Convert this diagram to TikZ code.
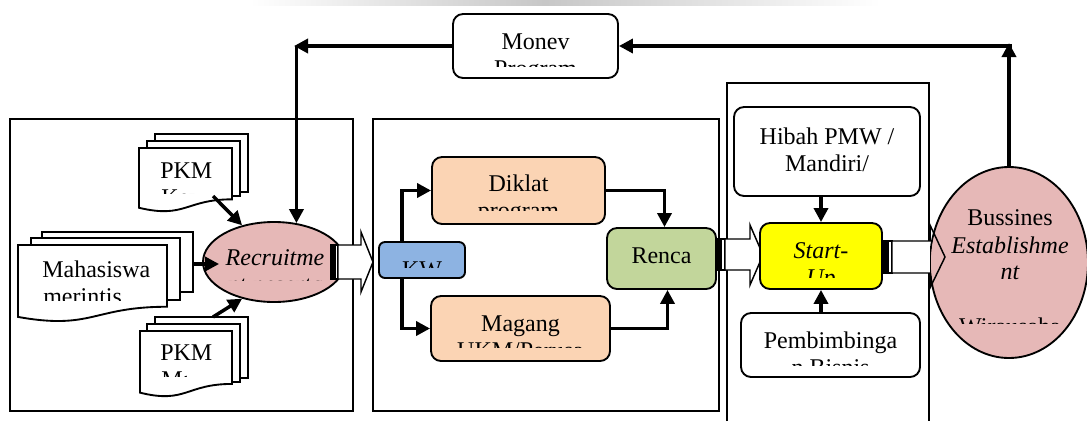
\documentclass[tikz,border=0pt]{standalone}
\usepackage{fontspec}
\setmainfont{Liberation Serif}
\usetikzlibrary{shapes.geometric,arrows.meta,calc,fit}
\definecolor{pinkfill}{HTML}{E6B8B7}
\definecolor{peach}{HTML}{FBD4B4}
\definecolor{kwblue}{HTML}{8DB3E2}
\definecolor{rgreen}{HTML}{C2D69B}
\definecolor{suyellow}{HTML}{FFFF00}
\newcommand\mydoc[4]{% x1, y1, x2, h
  \draw[doc] (#1,#2) -- (#3,#2) -- (#3,{#2+0.802*#4})
    .. controls ({(#1+#3)/2},{#2+0.802*#4}) and ({(#1+#3)/2},{#2+1.107*#4}) .. (#1,{#2+0.934*#4}) -- cycle;}
\begin{document}
\begin{tikzpicture}[x=0.75pt,y=-0.75pt,
  txt/.style={font=\fontsize{18pt}{20.25pt}\selectfont, inner sep=0pt, anchor=base},
  txtw/.style={txt, anchor=base west},
  box/.style={draw, line width=1.4pt, rounded corners=7.5pt, inner sep=0pt},
  panel/.style={draw, line width=1.4pt, inner sep=0pt},
  conn/.style={line width=2.6pt, -{Triangle[length=10.5pt,width=10.5pt]}},
  blockar/.style={draw, line width=1.1pt, line join=miter},
  doc/.style={draw, line width=1.4pt, fill=white}]
\useasboundingbox (0,0) rectangle (1087,421);

% faint scan band at the top
\shade[left color=white, right color=black!22] (250,0) rectangle (545,5);
\shade[left color=black!22, right color=white] (545,0) rectangle (880,5);

% panels
\node[panel, fit={(10,119) (353,411)}] (p1) {};
\node[panel, fit={(373,119) (719,411)}] (p2) {};
\draw[line width=1.4pt] (727,421) -- (727,83) -- (929,83) -- (929,421);

% Monev
\node[box, fill=white, fit={(453,14) (618,78)}] (monev) {};
\node[txt] (monev-l1) at (535.5,49) {Monev};
\begin{scope}
  \clip (453,14) rectangle (618,66);
  \node[txt] (monev-l2) at (535.5,76) {Program};
\end{scope}

% PKM K stack
\draw[doc] (155,134) rectangle (248,192);
\draw[doc] (147,141) rectangle (240,196);
\mydoc{139}{148}{232}{64}
\node[inner sep=0pt, fit={(139,134) (248,208)}] (pkmk) {};
\node[txtw] (pkmk-l1) at (160,178) {PKM};
\begin{scope}
  \clip (140,150) rectangle (200,193);
  \node[txtw] (pkmk-l2) at (161,205) {Kewirausahaan};
\end{scope}
\coordinate (pkmk-out) at (213,196);

% Mahasiswa stack
\draw[doc] (42,232) rectangle (193,292);
\draw[doc] (31,238) rectangle (180,300);
\mydoc{18}{245}{167}{77}
\node[inner sep=0pt, fit={(18,232) (193,317)}] (maha) {};
\node[txtw] (maha-l1) at (42,277) {Mahasiswa};
\begin{scope}
  \clip (20,247) rectangle (166,300);
  \node[txtw] (maha-l2) at (43,304) {merintis};
\end{scope}

% PKM M stack
\draw[doc] (155,317) rectangle (248,378);
\draw[doc] (147,324) rectangle (240,382);
\mydoc{140}{331}{232}{66}
\node[inner sep=0pt, fit={(140,317) (248,393)}] (pkmm) {};
\node[txtw] (pkmm-l1) at (160,360) {PKM};
\begin{scope}
  \clip (141,333) rectangle (186,376);
  \node[txtw] (pkmm-l2) at (161,387) {Mahasiswa};
\end{scope}
\coordinate (pkmm-out) at (213,317);

% Recruitment ellipse
\node[ellipse, draw, line width=1.4pt, fill=pinkfill, minimum width=106.5pt,
      minimum height=60pt, inner sep=0pt] (recruit) at (274,262) {};
\node[txt, font=\fontsize{18pt}{20.25pt}\selectfont\itshape] (recruit-l1) at (275,265) {Recruitme};
\begin{scope}
  \clip (210,240) rectangle (340,280.5);
  \node[txt, font=\fontsize{18pt}{20.25pt}\selectfont\itshape] (recruit-l2) at (275,292) {nt peserta};
\end{scope}

% arrows into recruitment
\draw[conn] (pkmk-out) -- (recruit.131);
\draw[conn] (pkmm-out) -- (recruit.-131);
\draw[conn] (maha.east |- 0,264) -- ($(recruit.west)+(17,2)$);
\coordinate (c1) at (294,46);
\draw[conn] (monev.west) -- (c1);
\draw[conn] (c1 -| recruit.60) -- (recruit.60);

% block arrow Recruitment -> KW
\draw[blockar, fill=black] (331,245) rectangle (334,279);
\draw[blockar, fill=white] (335,245) rectangle (338,279);
\draw[blockar, fill=white] (338,245) -- (361,245) -- (361,232) -- (373,262) -- (361,292) -- (361,279) -- (338,279) -- cycle;

% KW
\node[box, rounded corners=4.5pt, fill=kwblue, fit={(379,242) (465,278)}] (kw) {};
\begin{scope}
  \clip (379,242) rectangle (465,267);
  \node[txt] (kw-l1) at (422,277) {KW};
\end{scope}

% Diklat
\node[box, fill=peach, fit={(432,157) (605,224)}] (diklat) {};
\node[txt] (diklat-l1) at (518.5,191) {Diklat};
\begin{scope}
  \clip (432,157) rectangle (605,210);
  \node[txt] (diklat-l2) at (518.5,218) {program};
\end{scope}

% Magang
\node[box, fill=peach, fit={(431,296) (610,361)}] (magang) {};
\node[txt] (magang-l1) at (520.5,331) {Magang};
\begin{scope}
  \clip (431,296) rectangle (610,347);
  \node[txt] (magang-l2) at (520.5,358) {UKM/Perusa};
\end{scope}

% Renca
\node[box, fill=rgreen, fit={(607,228) (716,289)}] (renca) {};
\node[txt] (renca-l1) at (661.5,263) {Renca};

% connectors middle panel
\draw[conn] ($(kw.north west)+(24,0)$) |- (diklat.west);
\draw[conn] ($(kw.south west)+(24,0)$) |- (magang.west);
\draw[conn] (diklat.east) -| ($(renca.north)+(3,0)$);
\draw[conn] (magang.east) -| ($(renca.south)+(6,0)$);

% block arrow Renca -> Start-Up
\draw[blockar, fill=black] (717,239) rectangle (720,270);
\draw[blockar, fill=white] (721,239) rectangle (725,270);
\draw[blockar, fill=white] (725,239) -- (750,239) -- (750,225) -- (763,255) -- (750,285) -- (750,270) -- (725,270) -- cycle;

% Hibah
\node[box, fill=white, fit={(734,107) (920,196)}] (hibah) {};
\node[txt] (hibah-l1) at (827,144) {Hibah PMW /};
\node[txt] (hibah-l2) at (827,171) {Mandiri/};

% Start-Up
\node[box, fill=suyellow, fit={(760,223) (882,289)}] (startup) {};
\node[txt, font=\fontsize{18pt}{20.25pt}\selectfont\itshape] (startup-l1) at (821,258) {Start-};
\begin{scope}
  \clip (760,223) rectangle (882,277);
  \node[txt, font=\fontsize{18pt}{20.25pt}\selectfont\itshape] (startup-l2) at (821,285) {Up};
\end{scope}

% Pembimbingan
\node[box, fill=white, fit={(741,313) (920,377)}] (pemb) {};
\node[txt] (pemb-l1) at (830.5,348) {Pembimbinga};
\begin{scope}
  \clip (741,313) rectangle (920,365);
  \node[txt] (pemb-l2) at (830.5,375) {n Bisnis};
\end{scope}

\draw[conn] (hibah.south -| startup.north) -- (startup.north);
\draw[conn] (pemb.north -| startup.south) -- (startup.south);

% Bussines ellipse
\node[ellipse, draw, line width=1.4pt, fill=pinkfill, minimum width=118.5pt,
      minimum height=143.25pt, inner sep=0pt] (bus) at (1009,262.5) {};
\node[txt] (bus-l1) at (1010,225) {Bussines};
\node[txt, font=\fontsize{18pt}{20.25pt}\selectfont\itshape] (bus-l2) at (1010,253) {Establishme};
\node[txt, font=\fontsize{18pt}{20.25pt}\selectfont\itshape] (bus-l3) at (1010,279) {nt};
\begin{scope}
  \clip (930,290) rectangle (1087,323);
  \node[txt] (bus-l5) at (1010,334) {Wirausaha};
\end{scope}

% block arrow Start-Up -> Bussines
\draw[blockar, fill=black] (884,241) rectangle (887,273);
\draw[blockar, fill=white] (888,241) rectangle (892,273);
\fill[white] (892,241) rectangle (930,273);
\begin{scope}
  \clip (bus.center) ellipse [x radius=78, y radius=94.5];
  \fill[pinkfill] (928,225) -- (945,257) -- (928,288) -- cycle;
\end{scope}
\draw[blockar] (892,241) -- (930,241) -- (930,225) -- (945,257) -- (930,288) -- (930,273) -- (892,273) -- cycle;

% feedback loop to Monev
\coordinate (c2) at (1009,43);
\draw[conn] (bus.north) -- (c2);
\draw[conn] ($(c2)+(3,3)$) -- (monev.east);
\end{tikzpicture}
\end{document}
